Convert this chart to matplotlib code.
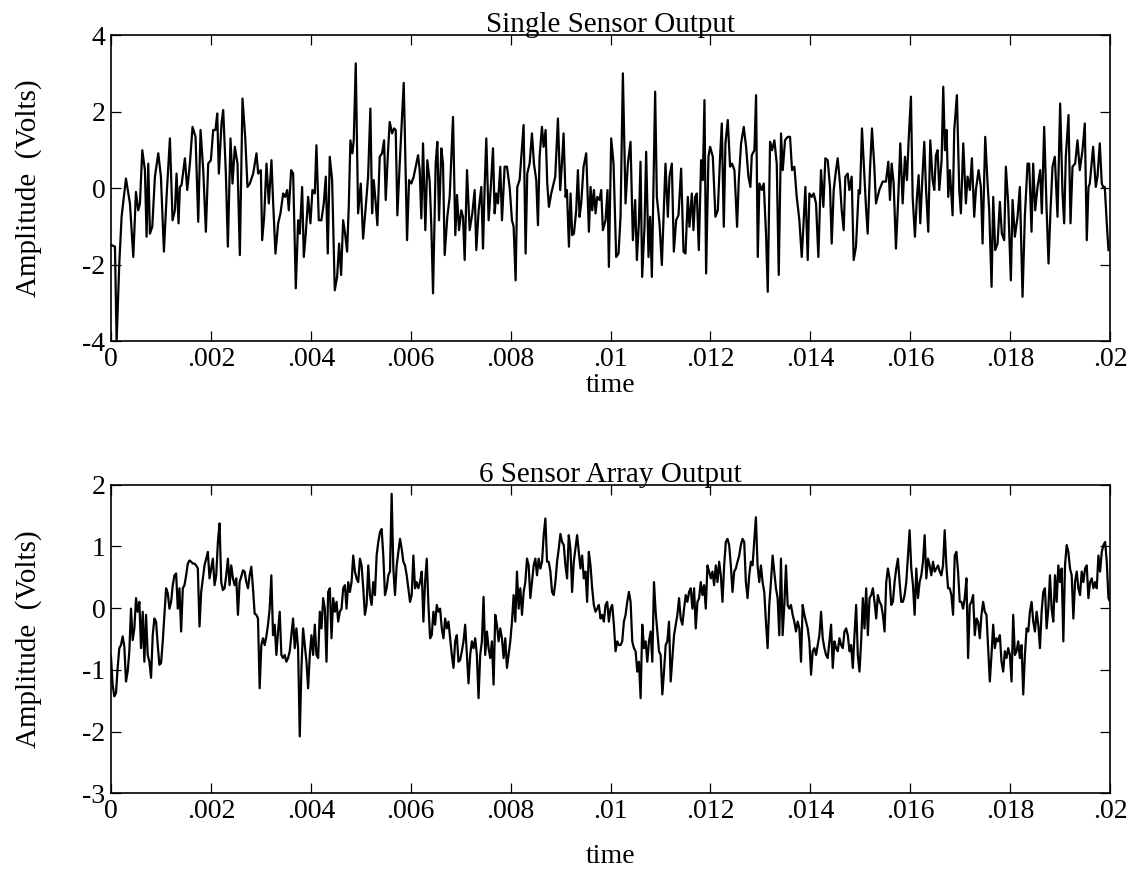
import numpy as np
import matplotlib
matplotlib.use("Agg")
import matplotlib.pyplot as plt

# ---- single sensor output: time in microseconds, amplitude in volts ----
single_t_us = [
    13, 80, 113, 167, 213, 300, 380, 447, 500, 547, 580, 627, 680, 713, 747, 780, 827, 880, 947, 1000,
    1060, 1113, 1180, 1233, 1280, 1313, 1353, 1380, 1413, 1480, 1527, 1580, 1633, 1693, 1747, 1793, 1847, 1900, 1947, 2000,
    2047, 2093, 2127, 2160, 2213, 2247, 2300, 2340, 2393, 2433, 2480, 2533, 2580, 2633, 2687, 2733, 2780, 2847, 2913, 2947,
    3000, 3027, 3067, 3113, 3160, 3213, 3247, 3293, 3347, 3393, 3447, 3487, 3527, 3560, 3607, 3647, 3700, 3747, 3780, 3827,
    3860, 3900, 3947, 3993, 4033, 4080, 4113, 4160, 4213, 4260, 4300, 4340, 4380, 4427, 4480, 4527, 4567, 4607, 4647, 4687,
    4727, 4760, 4793, 4833, 4860, 4900, 4947,
    5000, 5047, 5100, 5147, 5193, 5227, 5260, 5300, 5333, 5380, 5427, 5467, 5500, 5547, 5580, 5627, 5667, 5700, 5733, 5780,
    5860, 5880, 5927, 5967, 6013, 6060, 6113, 6147, 6180, 6213, 6247, 6293, 6333, 6380, 6413, 6447, 6500, 6533, 6567, 6613,
    6647, 6680, 6733, 6780, 6847, 6893, 6927, 6967, 7013, 7047, 7080, 7127, 7180, 7233, 7280, 7313, 7360, 7413, 7447, 7480,
    7513, 7560, 7600, 7647, 7680, 7713, 7747, 7793, 7827, 7880, 7927, 7980, 8027, 8060, 8100, 8133, 8180, 8213, 8260, 8300,
    8333, 8380, 8427, 8467, 8513, 8547, 8580, 8627, 8660, 8700, 8733, 8767, 8813, 8860, 8893, 8947, 8993, 9027, 9060, 9100,
    9127, 9167, 9200, 9233, 9267, 9313, 9347, 9380, 9413, 9460, 9513, 9567, 9600, 9633, 9667, 9700, 9733, 9780, 9813, 9847,
    9900, 9940, 9967,
    10013, 10060, 10113, 10160, 10200, 10247, 10300, 10347, 10400, 10447, 10493, 10527, 10567, 10600, 10633, 10680, 10713, 10760, 10793, 10827,
    10860, 10893, 10927, 10980, 11027, 11060, 11100, 11147, 11180, 11227, 11267, 11313, 11360, 11413, 11460, 11500, 11547, 11580, 11627, 11660,
    11693, 11727, 11767, 11813, 11847, 11880, 11913, 11960, 11993, 12047, 12100, 12147, 12193, 12227, 12267, 12300, 12347, 12393, 12433, 12480,
    12533, 12567, 12613, 12667, 12713, 12760, 12800, 12827, 12880, 12913, 12947, 12980, 13027, 13067, 13113, 13147, 13193, 13233, 13280, 13327,
    13367, 13413, 13447, 13493, 13547, 13593, 13633, 13680, 13727, 13780, 13827, 13860, 13900, 13947, 13980, 14027, 14067, 14113, 14160, 14213,
    14260, 14300, 14347, 14393, 14427, 14467, 14513, 14547, 14593, 14627, 14667, 14700, 14747, 14780, 14827, 14867, 14913, 14967,
    14993, 15033, 15080, 15113, 15147, 15193, 15233, 15280, 15313, 15380, 15447, 15513, 15560, 15593, 15627, 15667, 15713, 15760, 15800, 15847,
    15893, 15933, 15967, 16013, 16047, 16093, 16133, 16167, 16200, 16233, 16280, 16313, 16360, 16400, 16447, 16480, 16513, 16547, 16580, 16627,
    16660, 16693, 16727, 16760, 16793, 16847, 16880, 16933, 16980, 17013, 17060, 17113, 17147, 17193, 17233, 17280, 17313, 17367, 17413, 17447,
    17500, 17547, 17580, 17627, 17660, 17700, 17747, 17793, 17833, 17880, 17913, 17960, 18013, 18047, 18093, 18147, 18193, 18247, 18293, 18347,
    18380, 18427, 18460, 18500, 18547, 18600, 18633, 18680, 18727, 18767, 18807, 18847, 18893, 18947, 19000, 19047, 19080, 19113, 19167, 19207,
    19247, 19300, 19347, 19393, 19447, 19493, 19533, 19567, 19593, 19627, 19660, 19713, 19747, 19793, 19833, 19860, 19893, 19933, 19967,
]
single_volts = [
    -1.49, -1.53, -4.0, -1.97, -0.75, 0.25, -0.40, -1.80, -0.10, -0.58, -0.40, 0.99, 0.47, -1.27, 0.64, -1.19, -1.01, 0.30, 0.91, 0.30,
    -1.66, -0.23, 1.30, -0.84, -0.58, 0.38, -0.92, 0.03, 0.08, 0.78, -0.05, 0.64, 1.60, 1.34, -0.88, 1.52, 0.47, -1.14, 0.64, 0.73,
    1.52, 1.52, 1.95, 0.38, 1.69, 2.04, 0.38, -1.53, 1.30, 0.12, 1.08, 0.64, -1.75, 2.34, 1.34, 0.03, 0.12, 0.38, 0.91, 0.38,
    0.47, -1.36, -0.75, 0.64, -0.40, 0.73, -0.40, -1.71, -0.92, -0.66, -0.14, -0.23, -0.05, -0.58, 0.47, 0.38, -2.62, -0.84, -1.19, 0.03,
    -1.80, -1.19, -0.23, -0.92, -0.05, -0.14, 1.12, -0.84, -0.84, -0.40, 0.30, -1.71, 0.82, 0.21, -2.67, -2.32, -1.45, -2.27, -0.84, -1.19,
    -1.66, -0.49, 1.25, 0.91, 1.25, 3.26, -0.66,
    0.12, -1.32, -0.49, 0.30, 2.08, -0.66, 0.21, -0.40, -0.97, 0.82, 0.91, 1.25, -0.31, 0.99, 1.73, 1.43, 1.56, 1.52, -0.71, 0.64,
    2.75, 1.60, -1.36, 0.21, 0.12, 0.30, 0.64, 0.86, 0.47, -0.79, 1.17, -1.10, 0.73, 0.17, -1.01, -2.75, 0.64, 1.21, -0.84, 1.04,
    0.64, -1.75, -0.75, -0.23, 1.86, -1.23, -0.18, -1.10, -0.58, -0.75, -1.88, 0.47, -1.10, -0.66, -0.05, -1.62, -0.58, 0.03, -1.58, 0.03,
    1.30, -0.84, -0.05, 1.04, -0.66, -0.14, -0.40, 0.56, -0.84, 0.56, 0.56, 0.03, -0.84, -1.01, -2.41, 0.03, 0.21, 0.82, 1.65, -1.71,
    0.38, 0.64, 1.43, 0.64, 0.21, -0.97, 0.82, 1.60, 1.08, 1.52, 0.12, -0.49, -0.14, 0.12, 0.30, 1.82, -0.05, 0.64, 1.43, -0.23,
    -0.05, -1.53, -0.14, -1.23, -1.19, -0.58, 0.47, -0.75, -0.40, 0.56, 0.91, -1.14, 0.03, -0.58, -0.05, -0.66, -0.23, -0.31, -0.05, -1.10,
    -0.84, -0.05, -2.06,
    1.30, 0.64, -1.80, -1.71, -0.75, 3.00, -0.40, 0.64, 1.21, -1.36, -0.31, -1.88, -0.92, 0.69, -2.32, -1.01, 0.95, -1.80, -0.75, -2.32,
    0.03, 2.52, -0.23, -0.92, -2.01, -0.84, 0.64, -0.75, 0.30, 0.64, -1.66, -0.84, -0.71, 0.51, -1.66, -1.71, -0.23, -1.01, -0.14, -1.10,
    -0.23, -0.14, -1.62, 0.73, 0.21, 2.30, -2.23, 0.82, 1.08, 0.82, -0.75, -0.58, 0.82, 1.69, -1.01, 1.17, 1.78, 0.56, 0.64, 0.47,
    -1.01, 0.21, 1.17, 1.60, 1.08, 0.30, 0.03, 0.86, 0.99, 2.43, -1.80, 0.12, -0.05, 0.12, -1.23, -2.71, 1.21, 0.99, 1.25, 0.64,
    -2.27, 1.43, 0.47, 1.25, 1.34, 1.34, 0.47, 0.56, -0.23, -0.84, -1.80, -1.01, 0.03, -1.88, -0.14, -0.23, -0.14, -0.40, -1.80, 0.47,
    -0.49, 0.78, 0.73, 0.03, -1.45, -0.05, 0.47, 0.78, 0.12, -0.58, -1.10, 0.30, 0.38, -0.05, 0.30, -1.88, -1.53, -0.05,
    -0.14, 1.56, 0.38, -0.49, -1.19, 0.47, 1.56, 0.56, -0.40, -0.05, 0.17, 0.17, 0.69, -0.31, 0.64, 0.12, -1.58, -0.23, 1.17, -0.40,
    0.82, 0.21, 1.25, 2.39, -0.23, -1.27, -0.23, 0.34, -0.92, 0.03, 1.21, 0.03, -1.14, 1.25, 0.21, -0.05, 0.86, 0.99, -0.05, 0.73,
    2.65, 0.99, 1.52, -0.23, 0.47, -0.71, 1.52, 2.43, -0.05, -0.66, 1.17, -0.40, 0.30, -0.05, 0.78, -0.75, -0.05, 0.47, 0.03, -1.45,
    1.34, 0.12, -0.58, -2.58, -0.23, -1.62, -1.45, -0.36, -1.19, -1.36, 0.56, -0.40, -2.41, -0.31, -1.27, -0.75, 0.03, -2.84, -0.75, 0.64,
    0.64, -1.14, 0.64, -0.58, 0.03, 0.47, -0.66, 1.60, -0.49, -1.97, -0.58, 0.56, 0.82, -0.75, 2.21, -0.14, -0.92, 0.82, 1.91, -0.92,
    0.56, 0.64, 1.25, 0.47, 0.99, 1.69, -1.36, 0.03, 0.12, 0.60, 1.08, 0.03, 0.30, 1.17, 0.12, 0.03, 0.03, -0.92, -1.62,
]

# ---- 6 sensor array output: uniformly sampled over 0 .. 0.02 s ----
array_volts_a = [
    -0.78, -1.24, -1.43, -1.38, -0.97, -0.65, -0.60, -0.46, -0.62, -1.19,
    -1.03, -0.70, -0.01, -0.52, -0.33, 0.16, -0.06, 0.10, -0.65, -0.06,
    -0.87, -0.11, -0.76, -0.87, -1.13, -0.44, -0.17, -0.22, -0.60, -0.92,
    -0.89, -0.54, -0.11, 0.32, 0.24, -0.01, 0.10, 0.37, 0.53, 0.56,
    -0.01, 0.32, -0.38, 0.32, 0.37, 0.53, 0.72, 0.77, 0.75, 0.72,
    0.72, 0.69, 0.64, -0.30, 0.26, 0.48, 0.69, 0.80, 0.91, 0.48,
    0.64, 0.80, 0.37, 0.53, 1.07, 1.37, 0.42, 0.29, 0.32, 0.53,
    0.80, 0.37, 0.69, 0.48, 0.37, 0.48, -0.11, 0.42, 0.51, 0.61,
    0.59, 0.42, 0.32, 0.53, 0.67, 0.32, -0.09, -0.11, -0.17, -1.30,
    -0.60, -0.49, -0.60, -0.46, -0.27, -0.01, 0.53, -0.44, -0.27, -0.76,
    -0.38, -0.06, -0.76, -0.81, -0.76, -0.87, -0.81, -0.70, -0.44, -0.17,
    -0.65, -0.33, -0.65, -2.08, -0.97, -0.33, -0.60, -0.87, -1.30, -0.76,
    -0.44, -0.76, -0.27, -0.76, -0.81, -0.06, -0.33, 0.16, -0.01, -0.87,
    0.26, 0.32, -0.49, 0.16, -0.06, 0.10, -0.22, -0.06, -0.01, 0.32,
    0.37, -0.01, 0.42,
]
array_volts_b = [
    0.26, 0.42, 0.85, 0.59, 0.48, 0.42, 0.80, 0.69, 0.32, -0.11,
    0.05, 0.69, 0.21, 0.05, 0.42, 0.21, 0.85, 1.07, 1.23, 1.28,
    0.85, 0.21, 0.32, 0.53, 0.59, 1.85, 0.64, 0.21, 0.69, 0.91,
    1.12, 0.96, 0.75, 0.69, 0.53, 0.32, 0.10, 0.21, 0.85, 0.32,
    0.42, 0.32, 0.42, 0.59, -0.22, 0.42, 0.80, 0.05, -0.49, -0.44,
    -0.06, -0.27, 0.05, -0.06, -0.01, -0.33, -0.49, -0.17, -0.33, -0.22,
    -0.49, -0.76, -0.97, -0.54, -0.44, -0.87, -0.84, -0.70, -0.54, -0.27,
    -0.76, -1.22, -0.76, -0.54, -0.65, -0.49, -0.76, -1.46, -0.76, -0.54,
    0.18, -0.76, -0.38, -0.65, -0.81, -0.54, -1.24, -0.11, -0.27, -0.54,
    -0.33, -0.49, -0.81, -0.49, -0.97, -0.76, -0.54, -0.22, 0.21, -0.22,
    0.59, -0.01, 0.32, -0.11, 0.26, 0.42, 0.80, 0.69, 0.16, 0.42,
    0.69, 0.80, 0.53, 0.80, 0.64, 0.75, 1.18, 1.45, 0.75, 0.75,
    0.59, 0.26, 0.21, 0.42, 0.75, 0.96, 1.20, 1.07, 1.02, 0.69,
    0.48, 1.18, 0.96, 0.26, 0.75, 0.96, 1.18, 0.91, 0.64, 0.85,
    0.48, 0.59, 0.10, 0.91, 0.69, 0.32, 0.05, -0.06, -0.01, 0.05,
]
array_volts_c = [
    -0.17, -0.11, -0.22, 0.05, 0.10, -0.22, -0.01, 0.05, -0.27, -0.70,
    -0.54, -0.60, -0.60, -0.54, -0.22, -0.11, 0.10, 0.26, 0.10, -0.54,
    -0.65, -0.70, -1.03, -0.87, -1.46, -0.27, -0.65, -0.54, -0.87, -0.54,
    -0.38, -0.87, 0.42, -0.06, -0.38, -0.70, -0.76, -1.40, -1.03, -0.60,
    -0.54, -0.22, -1.19, -0.81, -0.44, -0.27, -0.11, 0.16, -0.17, -0.27,
    -0.01, 0.21, 0.10, 0.26, 0.32, -0.01, 0.32, -0.33, 0.10, 0.16,
    0.42, 0.21, 0.37, -0.01, 0.69, 0.59, 0.48, 0.59, 0.37, 0.69,
    0.42, 0.75, 0.53, 0.10, 0.69, 1.07, 1.12, 1.02, 0.69, 0.26,
    0.59, 0.64, 0.75, 0.85, 1.02, 1.12, 1.07, 0.42, 0.16, 0.53,
    0.75, 0.69, 1.07, 1.47, 0.69, 0.42, 0.69, 0.42, 0.26, -0.22,
    -0.65, 0.05, 0.42, 0.85, 0.59, 0.32, 0.16, -0.44, 0.80, -0.44,
    0.05, 0.69, 0.05, -0.01, 0.05, -0.11, -0.22, -0.38, -0.22, -0.33,
    -0.87, 0.05, -0.11, -0.22, -0.33, -0.54, -1.08, -0.70, -0.65, -0.76,
    -0.60, -0.44, -0.06, -0.49, -0.65, -0.76, -0.81, -0.54, -0.27, -0.97,
    -0.54, -0.65, -0.70, -0.49, -0.60, -0.65, -0.38, -0.33, -0.44, -0.70,
]
array_volts_d = [
    -0.60, -0.97, -0.44, 0.05, -0.76, -1.03, -0.54, 0.16, -0.33, 0.32,
    -0.44, 0.16, 0.21, 0.32, 0.10, -0.17, 0.21, 0.10, 0.05, -0.11,
    -0.38, 0.42, 0.64, 0.48, 0.05, 0.10, 0.42, 0.64, 0.80, 0.42,
    0.10, 0.10, 0.21, 0.42, 0.85, 1.26, 0.64, 0.37, -0.11, 0.64,
    0.16, 0.42, 0.53, 0.75, 1.18, 0.48, 0.80, 0.69, 0.53, 0.75,
    0.59, 0.64, 0.69, 0.59, 0.53, 0.69, 1.26, 0.69, 0.32, 0.32,
    0.21, -0.11, 0.85, 0.91, 0.59, 0.10, 0.10, -0.01, 0.16, 0.48,
    -0.81, 0.05, 0.10, 0.21, -0.44, -0.17, -0.22, -0.49, -0.11, 0.10,
    -0.06, -0.11, -0.65, -1.19, -0.76, -0.27, -0.65, -0.49, -0.54, -0.44,
    -0.87, -1.03, -0.70, -0.81, -0.65, -0.76, -1.19, -0.11, -0.76, -0.70,
    -0.54, -0.81, -0.60, -1.40, -0.76, -0.33, -0.38, -0.06, 0.10, -0.22,
    -0.38, -0.06, -0.27, -0.65, -0.06, 0.26, 0.32, -0.33, -0.01, 0.53,
    -0.01, -0.22, 0.53, 0.10, 0.69, 0.42, 0.64, -0.54, 0.69, 1.02,
    0.91, 0.64, 0.53, -0.17, 0.42, 0.59, 0.32, 0.21, 0.59, 0.42,
    0.64, 0.69, 0.16, 0.42, 0.48, 0.32, 0.42, 0.32, 0.85, 0.59,
    0.91, 1.02, 1.07, 0.75, 0.16, 0.10,
]

time_ticks = [0, .002, .004, .006, .008, .01, .012, .014, .016, .018, .02]
time_labels = ['0', '.002', '.004', '.006', '.008', '.01', '.012', '.014', '.016', '.018', '.02']
single_yticks = [-4, -2, 0, 2, 4]
array_yticks = [-3, -2, -1, 0, 1, 2]

plt.rcParams['font.family'] = ['Liberation Serif', 'DejaVu Serif']
plt.rcParams['axes.unicode_minus'] = False

single_t = np.array(single_t_us) * 1e-6
array_volts = array_volts_a + array_volts_b + array_volts_c + array_volts_d
array_t = np.linspace(0, 0.02, len(array_volts))

fig = plt.figure(figsize=(11.38, 8.77), dpi=100)
ax1 = fig.add_axes([0.0975, 0.611, 0.878, 0.349])
ax2 = fig.add_axes([0.0975, 0.0955, 0.878, 0.352])

ax1.plot(single_t, single_volts, color='black', linewidth=1.6)
ax2.plot(array_t, array_volts, color='black', linewidth=1.6)

ax1.set_ylim(-4, 4)
ax1.set_yticks(single_yticks)
ax1.set_yticklabels([str(v) for v in single_yticks])
ax2.set_ylim(-3, 2)
ax2.set_yticks(array_yticks)
ax2.set_yticklabels([str(v) for v in array_yticks])

for ax, title, xlab_y in [(ax1, 'Single Sensor Output', -0.145), (ax2, '6 Sensor Array Output', -0.205)]:
    ax.set_xlim(0, 0.02)
    ax.set_xticks(time_ticks)
    ax.set_xticklabels(time_labels)
    ax.tick_params(direction='in', top=True, right=True, length=7, width=0.9,
                   labelsize=20, pad=4)
    for s in ax.spines.values():
        s.set_linewidth(1.2)
    ax.set_title(title, fontsize=21, pad=2)
    ax.set_xlabel('time', fontsize=20)
    ax.xaxis.label.set_va('center')
    ax.xaxis.set_label_coords(0.5, xlab_y)
    ax.set_ylabel('Amplitude  (Volts)', fontsize=21)
    ax.yaxis.set_label_coords(-0.069, 0.5)

fig.savefig('out.png', dpi=100)
